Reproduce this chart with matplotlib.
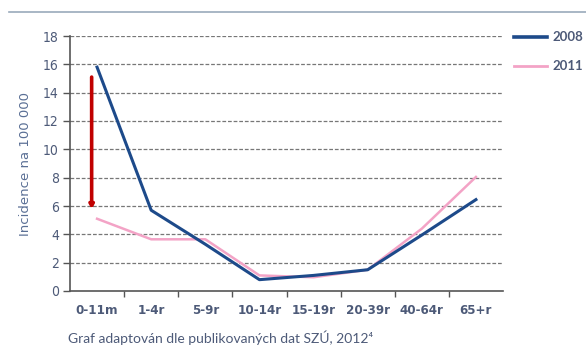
import matplotlib
matplotlib.use("Agg")
import matplotlib.pyplot as plt
from matplotlib.lines import Line2D
from matplotlib import font_manager

categories = ["0-11m", "1-4r", "5-9r", "10-14r", "15-19r", "20-39r", "40-64r", "65+r"]
values_2008 = [15.8, 5.7, 3.3, 0.8, 1.1, 1.5, 3.95, 6.45]
values_2011 = [5.1, 3.65, 3.65, 1.1, 0.97, 1.5, 4.4, 8.05]
series_names = ["2008", "2011"]
arrow_top = 15.1
arrow_bottom = 5.8
yticks = [0, 2, 4, 6, 8, 10, 12, 14, 16, 18]

c2008 = "#1d4a8a"
c2011 = "#f3a3c6"
txt = "#4d5a78"

names = {f.name for f in font_manager.fontManager.ttflist}
cond = None
for cand in ['Liberation Sans Narrow', 'DejaVu Sans Condensed']:
    if cand in names:
        cond = cand
        break
plt.rcParams['font.family'] = ['DejaVu Sans']
tick_font = dict(family=[cond] if cond else ['DejaVu Sans'], stretch='condensed')

fig = plt.figure(figsize=(5.86, 3.5), dpi=100)
ax = fig.add_axes([70/586, 1-291/350, (503-70)/586, (291-36)/350])

x = list(range(len(categories)))
ax.plot(x, values_2008, color=c2008, lw=2.2, zorder=3)
ax.plot(x, values_2011, color=c2011, lw=1.8, zorder=2)

ax.annotate("", xy=(-0.1, arrow_bottom), xytext=(-0.1, arrow_top),
            arrowprops=dict(arrowstyle="-|>,head_length=0.2,head_width=0.12",
                            color="#c00000", lw=2.6, shrinkA=0, shrinkB=0), zorder=4)

ax.set_xlim(-0.5, len(categories) - 0.5)
ax.set_ylim(0, 18)
ax.set_yticks(yticks)
ax.set_yticklabels([str(v) for v in yticks], fontsize=10, color=txt, **tick_font)
ax.set_xticks(x)
ax.set_xticklabels(categories, fontsize=9.5, color=txt, fontweight='bold', **tick_font)
ax.set_xticks([i + 0.5 for i in x[:-1]], minor=True)
ax.tick_params(axis='x', which='major', length=0, pad=9)
ax.tick_params(axis='x', which='minor', length=4, color="#555555", width=1)
ax.tick_params(axis='y', length=5, color="#555555", width=1, pad=3)

for spine in ['top', 'right']:
    ax.spines[spine].set_visible(False)
for spine in ['left', 'bottom']:
    ax.spines[spine].set_color("#555555")
    ax.spines[spine].set_linewidth(1.2)

for v in yticks[1:]:
    ax.axhline(v, color="#777777", lw=0.9, ls=(0, (3, 1.5)), zorder=1)

ax.set_ylabel("Incidence na 100 000", fontsize=9.5, color="#5a6f95", labelpad=8)

fig.add_artist(Line2D([514/586, 547/586], [1-37/350, 1-37/350], color=c2008, lw=2.6))
fig.add_artist(Line2D([514/586, 547/586], [1-66/350, 1-66/350], color=c2011, lw=2.0))
fig.text(552/586, 1-37/350, series_names[0], fontsize=9.5, color=txt, va='center',
         fontweight='bold', family=['Lato', 'DejaVu Sans'])
fig.text(552/586, 1-66/350, series_names[1], fontsize=9.5, color=txt, va='center',
         fontweight='bold', family=['Lato', 'DejaVu Sans'])

fig.add_artist(Line2D([9/586, 1.0], [1-12/350, 1-12/350], color="#9aaabb", lw=1.2))

fig.text(68/586, 1-338/350, "Graf adaptován dle publikovaných dat SZÚ, 2012\u2074",
         fontsize=10, color=txt, va='center', family=['Lato', 'DejaVu Sans'])

fig.savefig("out.png", dpi=100, facecolor="white")
